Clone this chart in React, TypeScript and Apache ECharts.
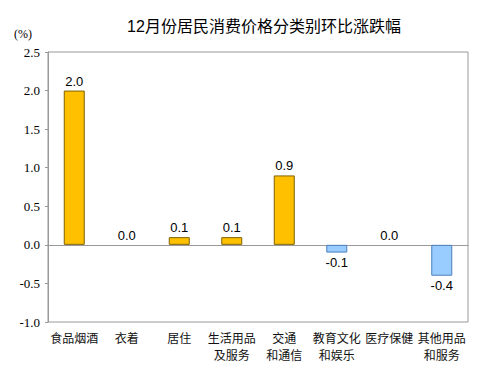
import React, { useEffect, useRef } from "react";
import * as echarts from "echarts";

const categories = ["食品烟酒", "衣着", "居住", "生活用品\n及服务", "交通\n和通信", "教育文化\n和娱乐", "医疗保健", "其他用品\n和服务"];
const values = [2.0, 0.0, 0.1, 0.1, 0.9, -0.1, 0.0, -0.4];
const yTicks = [-1.0, -0.5, 0.0, 0.5, 1.0, 1.5, 2.0, 2.5];

export default function App() {
  const ref = useRef<HTMLDivElement>(null);
  useEffect(() => {
    const chart = echarts.init(ref.current!, null, { renderer: "svg" });
    chart.setOption({
      animation: false,
      backgroundColor: "#fff",
      title: {
        text: "12月份居民消费价格分类别环比涨跌幅",
        left: 259,
        textAlign: "center",
        top: 13,
        textStyle: { fontSize: 16, fontWeight: "normal", color: "#000", fontFamily: "Liberation Sans, Noto Sans CJK SC" },
      },
      graphic: [
        { type: "text", left: 14, top: 28, style: { text: "(%)", fontSize: 12, fill: "#000", fontFamily: "Liberation Serif" } },
      ],
      grid: { left: 48, right: 27, top: 52, bottom: 47, show: true, borderColor: "#999", borderWidth: 1 },
      xAxis: {
        type: "category",
        data: categories,
        axisLine: { onZero: true, lineStyle: { color: "#999" } },
        axisTick: { show: false },
        axisLabel: {
          interval: 0,
          color: "#111",
          fontSize: 12,
          lineHeight: 17,
          margin: 8,
          fontFamily: "Liberation Sans, Noto Sans CJK SC",
        },
        position: "bottom",
      },
      yAxis: {
        type: "value",
        min: yTicks[0],
        max: yTicks[yTicks.length - 1],
        interval: 0.5,
        splitLine: { show: false },
        axisLine: { show: true, lineStyle: { color: "#999" } },
        axisTick: { show: true, length: 3, lineStyle: { color: "#999" } },
        axisLabel: {
          color: "#000",
          fontSize: 13,
          fontFamily: "Liberation Serif",
          margin: 8,
          formatter: (v: number) => v.toFixed(1),
        },
      },
      series: [
        {
          type: "bar",
          barWidth: 21,
          data: values.map((v) => ({
            value: v,
            itemStyle: v > 0
              ? { color: "#FFC000", borderColor: "#7F6000", borderWidth: 1 }
              : v < 0
              ? { color: "#99CCFF", borderColor: "#4A7EBB", borderWidth: 1 }
              : { color: "rgba(0,0,0,0)", borderWidth: 0 },
            label: { position: v >= 0 ? "top" : "bottom" },
          })),
          label: {
            show: true,
            color: "#000",
            fontSize: 13,
            fontFamily: "Liberation Sans",
            distance: 3,
            formatter: (p: any) => Number(p.value).toFixed(1),
          },
        },
      ],
    });
    return () => chart.dispose();
  }, []);
  return <div ref={ref} style={{ width: 495, height: 369, position: "absolute", left: 0, top: 0 }} />;
}
